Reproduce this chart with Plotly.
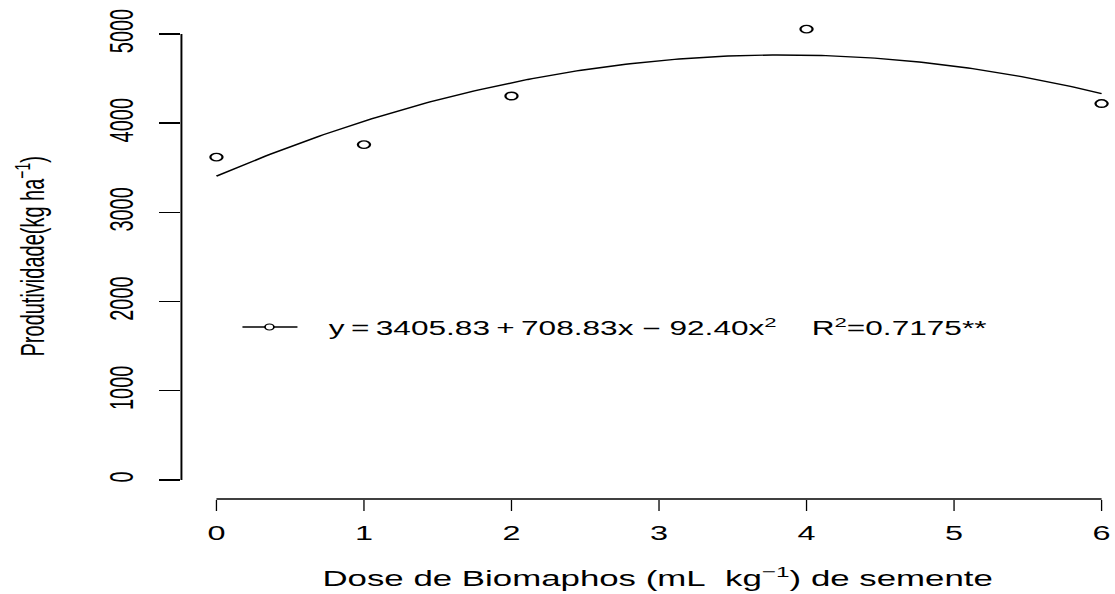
import numpy as np
import plotly.graph_objects as go

# Data
dose = [0, 1, 2, 4, 6]
produtividade = [3620, 3760, 4305, 5055, 4220]

# Fitted regression coefficients (as printed on the chart)
coef_a = 3405.83
coef_b = 708.83
coef_c = -92.40

x_ticks = [0, 1, 2, 3, 4, 5, 6]
y_ticks = [0, 1000, 2000, 3000, 4000, 5000]

x_fit = np.linspace(min(dose), max(dose), 200)
y_fit = coef_a + coef_b * x_fit + coef_c * x_fit ** 2

FONT = "Liberation Sans, Arial, sans-serif"

# The reference image is horizontally stretched; draw narrower, then stretch.
K = 1.62
W_PAGE, H_PAGE = 1115, 594
W0 = W_PAGE / K
L_PAGE = 182           # left edge of plot area (page px)
B_PAGE = 499           # bottom of plot area (page px)
L0 = L_PAGE / K
PW = W0 - L0
PH = B_PAGE


def px(page_x):
    return (page_x / K - L0) / PW


def py(page_y):
    return (PH - page_y) / PH


fig = go.Figure()
fig.add_trace(go.Scatter(x=x_fit, y=y_fit, mode="lines",
                         line=dict(color="black", width=1.4),
                         showlegend=False, hoverinfo="skip"))
fig.add_trace(go.Scatter(x=dose, y=produtividade, mode="markers",
                         marker=dict(symbol="circle-open", size=7.5, color="black",
                                     line=dict(width=1.4, color="black")),
                         showlegend=False, cliponaxis=False))

fig.update_layout(
    width=W0, height=H_PAGE,
    margin=dict(l=L0, r=0, t=0, b=H_PAGE - B_PAGE, pad=0),
    plot_bgcolor="white", paper_bgcolor="white",
    font=dict(family=FONT, color="black", size=20),
    xaxis=dict(range=[-0.2373, 6.088], tickvals=x_ticks, ticks="outside", ticklen=11,
               tickwidth=1.3 / K, tickcolor="black", showline=False, showgrid=False,
               zeroline=False, tickfont=dict(size=20), ticklabelstandoff=5),
    yaxis=dict(range=[-213, 5381], tickvals=y_ticks, ticks="outside", ticklen=21 / K,
               tickwidth=1.4, tickcolor="black", showline=False, showgrid=False,
               zeroline=False, tickangle=-90, tickfont=dict(size=20), ticklabelstandoff=8),
    shapes=[
        dict(type="line", xref="paper", yref="y", x0=0, x1=0, y0=y_ticks[0], y1=y_ticks[-1],
             line=dict(color="black", width=1.2)),
        dict(type="line", xref="x", yref="paper", x0=x_ticks[0], x1=x_ticks[-1], y0=0, y1=0,
             line=dict(color="black", width=1.5)),
        # legend key: line with small circle
        dict(type="line", xref="paper", yref="paper",
             x0=px(243), x1=px(298), y0=py(327), y1=py(327),
             line=dict(color="black", width=1.3)),
        dict(type="circle", xref="paper", yref="paper",
             x0=px(265.5), x1=px(274.5), y0=py(330), y1=py(324),
             fillcolor="white", line=dict(color="black", width=1.1)),
    ],
    annotations=[
        dict(text="y\u2009=\u20093405.83\u2009+\u2009708.83x \u2212 92.40x<sup>2</sup>\u00a0\u00a0\u00a0\u00a0R<sup>2</sup>=0.7175**",
             xref="paper", yref="paper", x=px(326), y=py(327),
             xanchor="left", yanchor="middle", showarrow=False, font=dict(size=19.5)),
        dict(text="Produtividade(kg ha<sup>\u22121</sup>)", xref="paper", yref="paper",
             x=px(29), y=py(256), textangle=-90,
             xanchor="center", yanchor="middle", showarrow=False, font=dict(size=20)),
        dict(text="Dose de Biomaphos (mL\u00a0\u00a0kg<sup>\u22121</sup>) de semente", xref="paper", yref="paper",
             x=px(659), y=py(577),
             xanchor="center", yanchor="middle", showarrow=False, font=dict(size=21.5)),
    ],
)

post = (
    "document.body.style.margin='0';"
    "document.body.style.overflow='hidden';"
    "var gd=document.getElementById('{plot_id}');"
    "gd.style.transformOrigin='0 0';"
    "gd.style.transform='scale(" + str(K) + ",1)';"
)

fig.write_html("out.html", post_script=post,
               config={"displayModeBar": False, "staticPlot": True})
